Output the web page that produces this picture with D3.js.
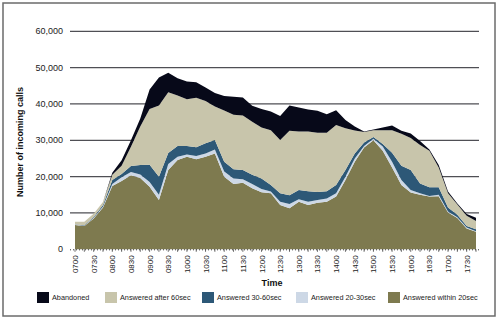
<!DOCTYPE html>
<html>
<head>
<meta charset="utf-8">
<script src="https://cdn.jsdelivr.net/npm/d3@7"></script>
<style>
  body { margin: 0; background: #fff; }
  svg { display: block; font-family: "Liberation Sans", Arial, sans-serif; }
</style>
</head>
<body>
<svg id="chart" width="500" height="323"></svg>
<script>
//Quarter-hour slots, 0700 to 1745
const TIMES = ["0700","0715","0730","0745","0800","0815","0830","0845","0900","0915",
	       "0930","0945","1000","1015","1030","1045","1100","1115","1130","1145",
	       "1200","1215","1230","1245","1300","1315","1330","1345","1400","1415",
	       "1430","1445","1500","1515","1530","1545","1600","1615","1630","1645",
	       "1700","1715","1730","1745"];

//Calls per slot, one array per answer band
const WITHIN_20 = [6700,6400,8500,11500,17400,18800,20400,19600,17200,13600,
		   21800,24600,25500,24800,25500,26400,20000,18000,18300,16800,
		   15700,15400,12200,11300,13100,12200,12800,13100,14500,19100,
		   24100,28000,30000,27100,22500,17700,15600,15000,14500,14600,
		   10100,8600,5700,4800];
const SEC_20_30 = [100,100,200,300,600,1000,900,1000,1300,1400,
		   1700,900,600,900,900,1100,1400,1500,1000,1200,
		   900,500,900,1200,700,900,800,900,900,900,
		   900,400,400,1200,1600,1400,700,400,200,400,
		   300,200,300,200];
const SEC_30_60 = [100,100,200,400,1100,900,1600,2600,4800,5000,
		   3000,2900,2300,2400,2800,2600,2700,2500,2500,2500,
		   2900,1800,2300,2400,2500,2900,2200,2000,2300,1800,
		   1400,1000,500,700,2500,3900,5500,2700,2400,2100,
		   1100,700,400,500];
const AFTER_60 = [700,1000,900,800,1400,2300,5300,10600,15300,19600,
		  16700,13900,12900,13600,11600,9200,14100,15000,15000,14600,
		  14000,15100,14700,17700,16100,16400,16300,16100,16500,11500,
		  6300,2900,1900,3800,6200,8800,8800,10600,10000,5400,
		  3900,2800,2800,2300];
const ABANDONED = [0,0,0,0,600,1500,1800,2200,5400,7700,
		   5400,4800,4900,4300,3700,3700,4000,5000,5000,4400,
		   5100,5100,6600,7000,6600,6100,6000,5100,4100,2300,
		   1100,100,200,700,1300,800,1300,1100,400,700,
		   500,300,500,900];

const Y_TICKS = [0, 10000, 20000, 30000, 40000, 50000, 60000];

//Stacked bottom-up; legend runs top-down
const SERIES = [
    {key: "within20", label: "Answered within 20sec", values: WITHIN_20, color: "#7e7a4f"},
    {key: "s2030", label: "Answered 20-30sec", values: SEC_20_30, color: "#cdd8e6"},
    {key: "s3060", label: "Answered 30-60sec", values: SEC_30_60, color: "#2d5877"},
    {key: "after60", label: "Answered after 60sec", values: AFTER_60, color: "#c8c5ab"},
    {key: "abandoned", label: "Abandoned", values: ABANDONED, color: "#070919"}
];

const svg = d3.select("#chart");

//Outer frame
svg.append("rect")
    .attr("x", 3).attr("y", 3)
    .attr("width", 492).attr("height", 313)
    .attr("fill", "none")
    .attr("stroke", "#6b6b6b")
    .attr("stroke-width", 1.5);

const x = d3.scaleLinear().domain([0, TIMES.length - 1]).range([75, 476]);
const y = d3.scaleLinear().domain([0, 60000]).range([249.3, 31.3]);

let rows = TIMES.map((t, i) => {
    let r = {time: t};
    SERIES.forEach(s => r[s.key] = s.values[i]);
    return r;
});

let stacked = d3.stack().keys(SERIES.map(s => s.key))(rows);

//Gridlines and value labels
let grid = svg.append("g");
grid.selectAll("line")
    .data(Y_TICKS.filter(v => v > 0))
    .join("line")
    .attr("x1", 70).attr("x2", 479)
    .attr("y1", d => y(d)).attr("y2", d => y(d))
    .attr("stroke", "#4f4f55")
    .attr("stroke-width", 1.2);

grid.selectAll("text")
    .data(Y_TICKS)
    .join("text")
    .attr("x", 63)
    .attr("y", d => y(d) + 3)
    .attr("text-anchor", "end")
    .attr("font-size", 9)
    .attr("fill", "#222")
    .text(d => d3.format(",")(d));

//Areas
let area = d3.area()
    .x((d, i) => x(i))
    .y0(d => y(d[0]))
    .y1(d => y(d[1]));

svg.append("g").selectAll("path")
    .data(stacked)
    .join("path")
    .attr("d", area)
    .attr("fill", (d, i) => SERIES[i].color);

//Category axis: dotted baseline, small ticks, rotated labels
svg.append("line")
    .attr("x1", 70).attr("x2", 479)
    .attr("y1", y(0) + 0.5).attr("y2", y(0) + 0.5)
    .attr("stroke", "#333")
    .attr("stroke-dasharray", "1,2");

let xAxis = svg.append("g");
xAxis.selectAll("line")
    .data(TIMES)
    .join("line")
    .attr("x1", (d, i) => x(i)).attr("x2", (d, i) => x(i))
    .attr("y1", y(0)).attr("y2", y(0) + 2.5)
    .attr("stroke", "#444")
    .attr("stroke-width", 0.8);

xAxis.selectAll("text")
    .data(TIMES.map((t, i) => ({t, i})).filter(d => d.i % 2 === 0))
    .join("text")
    .attr("transform", d => "translate(" + (x(d.i) + 3) + "," + (y(0) + 6) + ") rotate(-90)")
    .attr("text-anchor", "end")
    .attr("font-size", 8)
    .attr("fill", "#222")
    .text(d => d.t);

//Axis titles
svg.append("text")
    .attr("x", 272).attr("y", 286)
    .attr("text-anchor", "middle")
    .attr("font-size", 9)
    .attr("font-weight", "bold")
    .attr("fill", "#111")
    .text("Time");

svg.append("text")
    .attr("transform", "translate(23,142) rotate(-90)")
    .attr("text-anchor", "middle")
    .attr("font-size", 9)
    .attr("font-weight", "bold")
    .attr("fill", "#111")
    .text("Number of incoming calls");

//Legend
const LEGEND_X = [37, 105, 202, 296, 388];
let legend = svg.append("g");
let items = legend.selectAll("g")
    .data(SERIES.slice().reverse())
    .join("g")
    .attr("transform", (d, i) => "translate(" + LEGEND_X[i] + ",292)");

items.append("rect")
    .attr("width", 12).attr("height", 11)
    .attr("fill", d => d.color);

items.append("text")
    .attr("x", 15).attr("y", 8.3)
    .attr("font-size", 7.3)
    .attr("fill", "#222")
    .text(d => d.label);
</script>
</body>
</html>
